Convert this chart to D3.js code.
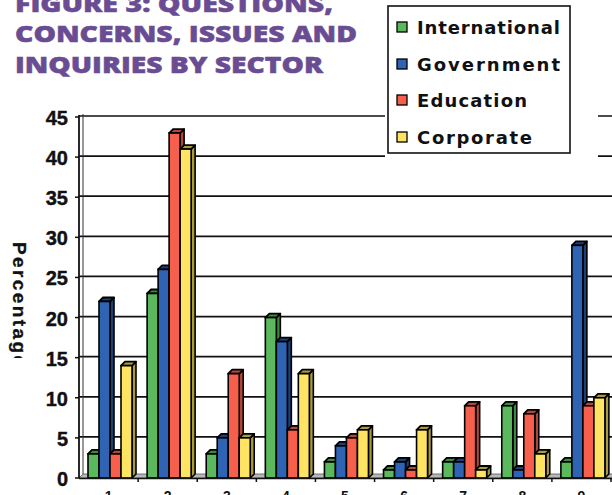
<!DOCTYPE html>
<html>
<head>
<meta charset="utf-8">
<script src="https://cdn.jsdelivr.net/npm/d3@7/dist/d3.min.js"></script>
<style>
html,body{margin:0;padding:0;background:#fff;}
svg{display:block;}
</style>
</head>
<body>
<script>
const categories = ["1","2","3","4","5","6","7","8","9"];
const seriesNames = ["International","Government","Education","Corporate"];
const international = [3, 23, 3, 20, 2, 1, 2, 9, 2];
const government    = [22, 26, 5, 17, 4, 2, 2, 1, 29];
const education     = [3, 43, 13, 6, 5, 1, 9, 8, 9];
const corporate     = [14, 41, 5, 13, 6, 6, 1, 3, 10];
const yTicks = [0,5,10,15,20,25,30,35,40,45];
const titleLines = ["FIGURE 3: QUESTIONS,","CONCERNS, ISSUES AND","INQUIRIES BY SECTOR"];
const yLabel = "Percentage";

const seriesValues = [international, government, education, corporate];
const colors = ["#5cb85c","#2e64b3","#f55f4b","#ffe463"];
const darkColors = ["#3c8a3c","#1c3f78","#b0473a","#a99a3e"];

const W = 612, H = 495;
const svg = d3.select("body").append("svg").attr("width", W).attr("height", H);

const y = d3.scaleLinear().domain([0,45]).range([478,117]);
const x = d3.scaleBand().domain(categories).range([79, 611]).padding(0);
const xs = d3.scaleBand().domain(seriesNames).range([9, 53]).padding(0);
const dx = 4, dy = 4;

// floor
svg.append("polygon")
  .attr("points", [[79,478],[612,478],[616,478-dy],[83,478-dy]].map(p=>p.join(",")).join(" "))
  .attr("fill","#b8b8b8").attr("stroke","#555").attr("stroke-width",0.8);

// gridlines
const grid = svg.append("g");
yTicks.filter(t=>t>0).forEach(t=>{
  grid.append("line").attr("x1",79).attr("x2",W).attr("y1",y(t)-1).attr("y2",y(t)-1)
    .attr("stroke","#111").attr("stroke-width",1.7);
});

// white area behind legend hides grid
svg.append("rect").attr("x",385).attr("y",0).attr("width",213).attr("height",162).attr("fill","#fff");

// y axis wall
svg.append("line").attr("x1",79).attr("x2",79).attr("y1",y(45)-2).attr("y2",478).attr("stroke","#111").attr("stroke-width",1.8);
svg.append("line").attr("x1",83).attr("x2",83).attr("y1",y(45)-3).attr("y2",478-dy).attr("stroke","#333").attr("stroke-width",1);
yTicks.forEach(t=>{
  svg.append("line").attr("x1",75).attr("x2",79).attr("y1",y(t)).attr("y2",y(t)).attr("stroke","#111").attr("stroke-width",1.5);
});

// y tick labels
svg.append("g").selectAll("text").data(yTicks).join("text")
  .attr("x",68).attr("y",d=>y(d)+8)
  .attr("text-anchor","end")
  .attr("font-family","'Liberation Sans', Arial, sans-serif")
  .attr("font-weight","bold").attr("font-size",20)
  .attr("fill","#111").attr("stroke","#111").attr("stroke-width",0.4)
  .text(d=>d);

// y label (clipped)
const defs = svg.append("defs");
defs.append("clipPath").attr("id","ylclip").append("rect").attr("x",0).attr("y",230).attr("width",42).attr("height",128);
svg.append("g").attr("clip-path","url(#ylclip)")
  .append("text")
  .attr("transform","translate(13,242) rotate(90)")
  .attr("font-family","'Liberation Sans', Arial, sans-serif")
  .attr("font-weight","bold").attr("font-size",19)
  .attr("letter-spacing",2.4)
  .attr("fill","#111").attr("stroke","#111").attr("stroke-width",0.3)
  .text(yLabel);

// bars
const barsG = svg.append("g");
categories.forEach((c,ci)=>{
  seriesNames.forEach((s,si)=>{
    const v = seriesValues[si][ci];
    const x0 = x(c) + xs(s);
    const w = xs.bandwidth();
    const yt = y(v), yb = 478;
    barsG.append("polygon")
      .attr("points",[[x0+w,yb],[x0+w,yt],[x0+w+dx,yt-dy],[x0+w+dx,yb-dy]].map(p=>p.join(",")).join(" "))
      .attr("fill",darkColors[si]).attr("stroke","#000").attr("stroke-width",1.6).attr("stroke-linejoin","round");
    barsG.append("polygon")
      .attr("points",[[x0,yt],[x0+dx,yt-dy],[x0+w+dx,yt-dy],[x0+w,yt]].map(p=>p.join(",")).join(" "))
      .attr("fill",darkColors[si]).attr("stroke","#000").attr("stroke-width",1.8).attr("stroke-linejoin","round");
    barsG.append("rect")
      .attr("x",x0).attr("y",yt).attr("width",w).attr("height",yb-yt)
      .attr("fill",colors[si]).attr("stroke","#000").attr("stroke-width",1.6);
  });
});

// x axis
svg.append("line").attr("x1",79).attr("x2",W).attr("y1",478.5).attr("y2",478.5).attr("stroke","#111").attr("stroke-width",1.5);
categories.forEach(c=>{
  const xe = x(c)+x.bandwidth();
  svg.append("line").attr("x1",xe).attr("x2",xe).attr("y1",478).attr("y2",482).attr("stroke","#111").attr("stroke-width",1.5);
});
svg.append("g").selectAll("text").data(categories).join("text")
  .attr("x",d=>x(d)+x.bandwidth()/2).attr("y",501)
  .attr("text-anchor","middle")
  .attr("font-family","'Liberation Sans', Arial, sans-serif")
  .attr("font-weight","bold").attr("font-size",14)
  .attr("fill","#111")
  .text(d=>d);

// title
const titleY = [12, 42, 73];
const titleW = [318, 342, 308];
svg.append("g").selectAll("text").data(titleLines).join("text")
  .attr("x",15).attr("y",(d,i)=>titleY[i])
  .attr("font-family","'Open Sans', 'Noto Sans', sans-serif")
  .attr("font-weight",800).attr("font-size",23)
  .attr("fill","#6a4c93").attr("stroke","#6a4c93").attr("stroke-width",0.5)
  .attr("textLength",(d,i)=>titleW[i]).attr("lengthAdjust","spacingAndGlyphs")
  .text(d=>d);

// legend
svg.append("rect").attr("x",388).attr("y",6).attr("width",182).attr("height",147)
  .attr("fill","#fff").attr("stroke","#111").attr("stroke-width",1.6);
const legY = [27, 64, 100, 137];
const legW = [143, 143, 110, 115];
seriesNames.forEach((s,i)=>{
  svg.append("rect").attr("x",397).attr("y",legY[i]-5).attr("width",10).attr("height",10)
    .attr("fill",colors[i]).attr("stroke","#000").attr("stroke-width",1.3);
  svg.append("text").attr("x",417).attr("y",legY[i]+7)
    .attr("font-family","'DejaVu Sans', Verdana, sans-serif")
    .attr("font-weight","bold").attr("font-size",18)
    .attr("fill","#111")
    .attr("textLength",legW[i]).attr("lengthAdjust","spacing")
    .text(s);
});
</script>
</body>
</html>
